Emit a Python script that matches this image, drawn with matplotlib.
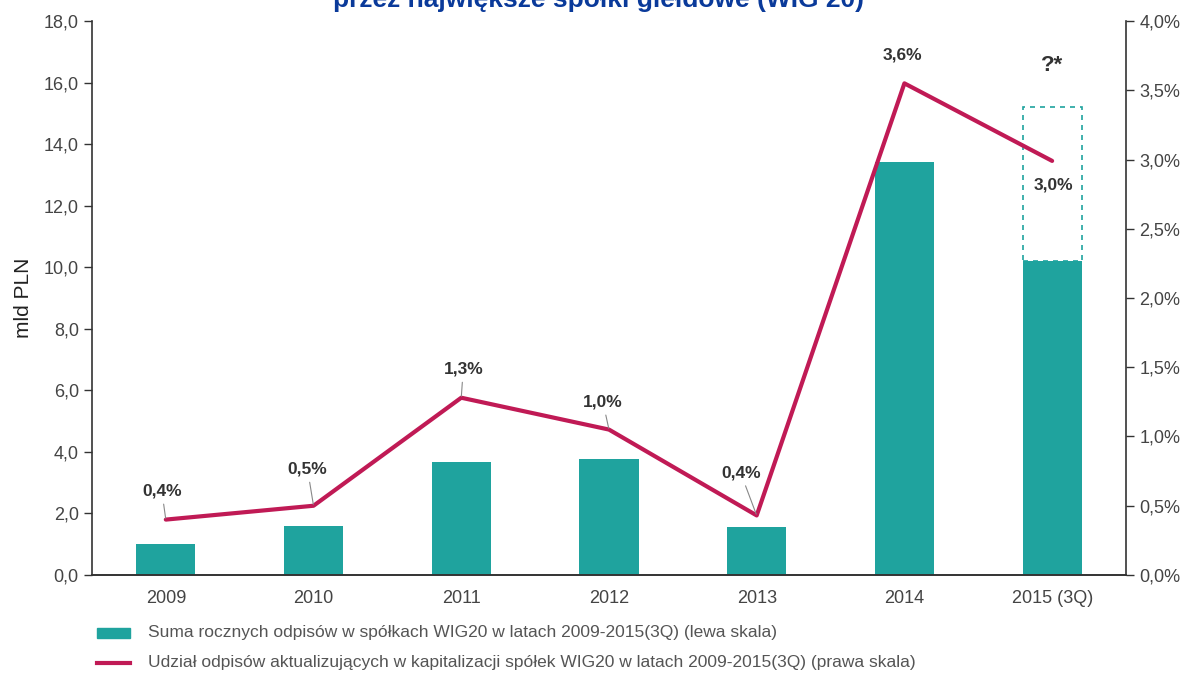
import matplotlib.pyplot as plt
import numpy as np

plt.rcParams['font.family'] = ['Liberation Sans', 'DejaVu Sans']

# data
years = ['2009', '2010', '2011', '2012', '2013', '2014', '2015 (3Q)']
odpisy = [1.01, 1.59, 3.67, 3.77, 1.56, 13.42, 10.2]      # mld PLN
odpisy_2015_est = 15.2                                     # dashed estimate for full 2015
udzial = [0.40, 0.50, 1.28, 1.05, 0.43, 3.55, 2.99]        # % of capitalisation
udzial_lbl = ['0,4%', '0,5%', '1,3%', '1,0%', '0,4%', '3,6%', '3,0%']
lbl_off = [(-4, 21), (-6, 29), (2, 21), (-6, 20), (-16, 35), (-2, 21), (1, -17)]

teal = '#1fa39e'
crimson = '#c01a55'
grey = '#333333'

fig = plt.figure(figsize=(11.85, 6.74), dpi=100)
ax = fig.add_axes([0.0776, 0.1469, 0.8726, 0.8219])
ax2 = ax.twinx()

x = np.arange(len(years))
ax.bar(x, odpisy, width=0.4, color=teal, zorder=2)
# dashed box on top of the last bar
ax.bar(x[-1], odpisy_2015_est - odpisy[-1], bottom=odpisy[-1], width=0.4,
       fill=False, edgecolor=teal, linestyle=(0, (3, 3)), linewidth=1.2, zorder=2)
ax.text(x[-1], 16.2, '?*', ha='center', va='bottom', fontsize=16,
        fontweight='bold', color=grey)

ax.set_xlim(-0.5, 6.5)
ax.set_ylim(0, 18)
ax.set_yticks(np.arange(0, 18.1, 2))
ax.set_yticklabels([f'{v:.1f}'.replace('.', ',') for v in np.arange(0, 18.1, 2)])
ax.set_xticks(x)
ax.set_xticklabels(years)
ax.set_ylabel('mld PLN', fontsize=15, color='#222222', labelpad=8)

ax2.plot(x, udzial, color=crimson, linewidth=3, solid_capstyle='round', zorder=3)
ax2.set_ylim(0, 4)
ax2.set_yticks(np.arange(0, 4.01, 0.5))
ax2.set_yticklabels([f'{v:.1f}%'.replace('.', ',') for v in np.arange(0, 4.01, 0.5)])

for i, (v, t, off) in enumerate(zip(udzial, udzial_lbl, lbl_off)):
    arrow = dict(arrowstyle='-', color='#888888', lw=0.8, shrinkA=2, shrinkB=1) if i < 5 else None
    ax2.annotate(t, xy=(x[i], v), xytext=off, textcoords='offset pixels',
                 ha='center', va='bottom' if off[1] > 0 else 'top',
                 fontsize=12.5, fontweight='bold', color=grey, arrowprops=arrow)

for a in (ax, ax2):
    a.spines['top'].set_visible(False)
    for s in ('left', 'right', 'bottom'):
        a.spines[s].set_color('#333333')
        a.spines[s].set_linewidth(1.2)
    a.tick_params(axis='y', labelsize=13, colors='#333333', length=6, width=1)
    a.tick_params(axis='y', labelcolor='#444444')
ax.tick_params(axis='x', length=0, labelsize=13, labelcolor='#444444', pad=11)
ax2.spines['left'].set_visible(False)
ax.spines['right'].set_visible(False)

fig.text(0.505, 1 - 7 / 674, 'przez największe spółki giełdowe (WIG 20)',
         ha='center', va='baseline', fontsize=19, fontweight='bold', color='#0a3a9a')

# legend
fig.patches.append(plt.Rectangle((97 / 1185, 1 - 638 / 674), 33 / 1185, 10 / 674,
                                 transform=fig.transFigure, color=teal))
fig.lines.append(plt.Line2D([97 / 1185, 130 / 1185], [1 - 663 / 674] * 2,
                            transform=fig.transFigure, color=crimson, lw=3))
fig.text(148 / 1185, 1 - 633 / 674,
         'Suma rocznych odpisów w spółkach WIG20 w latach 2009-2015(3Q) (lewa skala)',
         va='center', fontsize=12.5, color='#555555')
fig.text(148 / 1185, 1 - 663 / 674,
         'Udział odpisów aktualizujących w kapitalizacji spółek WIG20 w latach 2009-2015(3Q) (prawa skala)',
         va='center', fontsize=12.5, color='#555555')

fig.savefig('out.png', dpi=100)
